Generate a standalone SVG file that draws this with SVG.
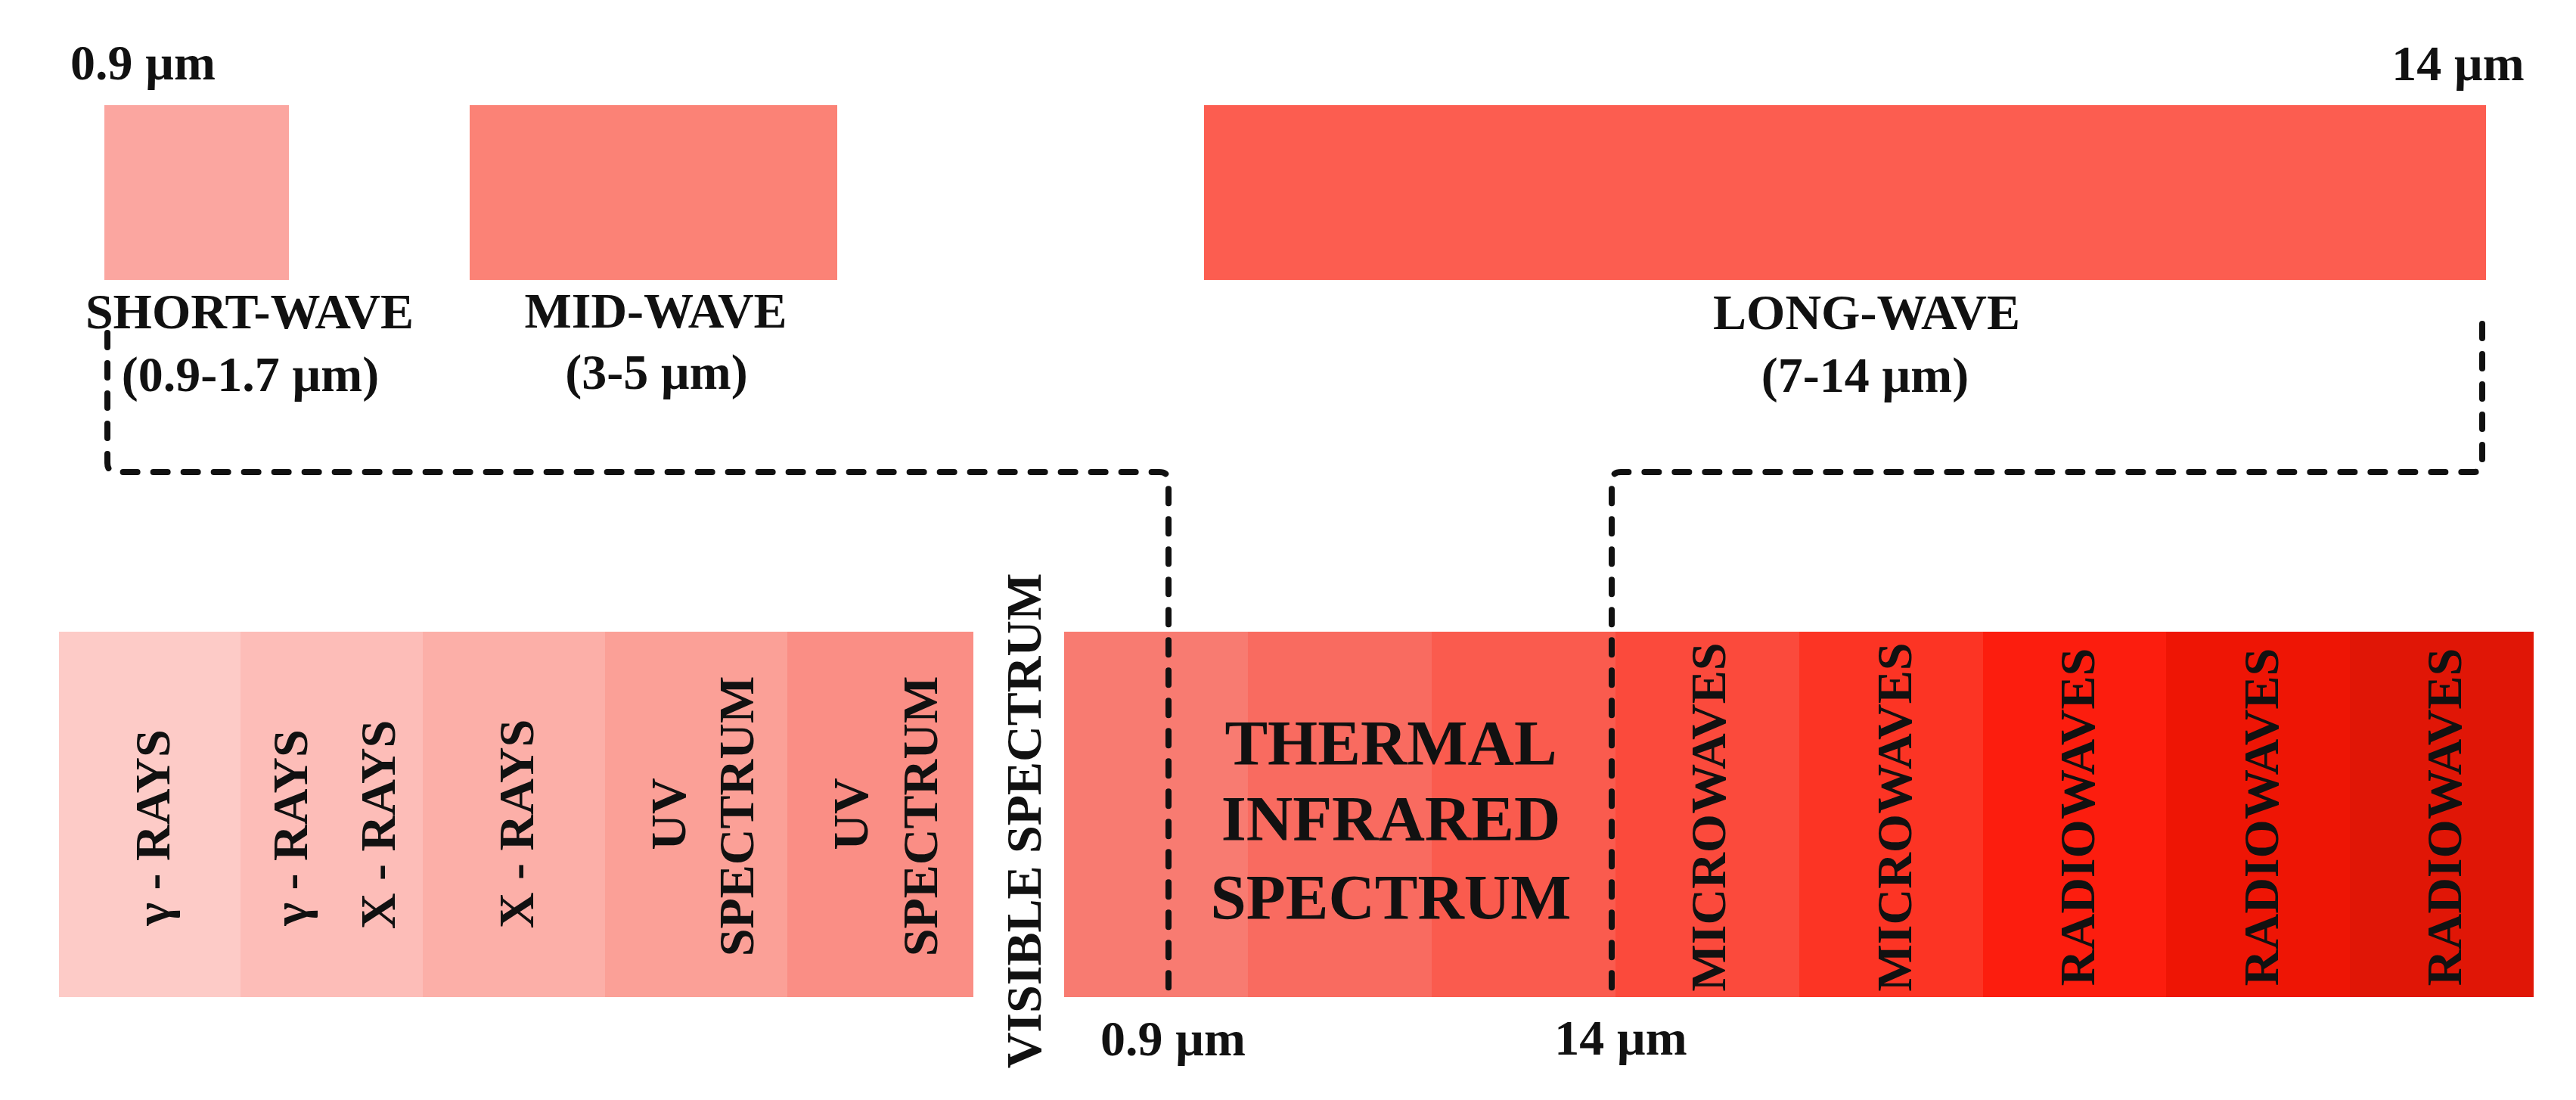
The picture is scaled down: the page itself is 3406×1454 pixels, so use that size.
<svg xmlns="http://www.w3.org/2000/svg" width="3406" height="1454" viewBox="0 0 3406 1454">
<style>
text{font-family:"Liberation Serif","Times New Roman",serif;font-weight:bold;fill:#111;font-size:66px}
.c{text-anchor:middle}
.big{font-size:85px}
.dash{fill:none;stroke:#111;stroke-width:8;stroke-dasharray:19 21;stroke-linecap:round;stroke-linejoin:round}
</style>
<rect width="3406" height="1454" fill="#ffffff"/>
<g id="top-scale">
<text class="c" x="189" y="105">0.9 µm</text>
<text class="c" x="3250" y="106">14 µm</text>
</g>
<g id="short-wave">
<rect x="138" y="139" width="244" height="231" fill="#FBA6A0"/>
<text class="c" x="330" y="434">SHORT-WAVE</text>
<text class="c" x="331" y="517">(0.9-1.7 µm)</text>
</g>
<g id="mid-wave">
<rect x="621" y="139" width="486" height="231" fill="#FB8276"/>
<text class="c" x="867" y="433">MID-WAVE</text>
<text class="c" x="868" y="514">(3-5 µm)</text>
</g>
<g id="long-wave">
<rect x="1592" y="139" width="1695" height="231" fill="#FC5D50"/>
<text class="c" x="2468" y="435">LONG-WAVE</text>
<text class="c" x="2466" y="518">(7-14 µm)</text>
</g>
<g id="gamma-rays">
<rect x="78" y="835" width="241" height="483" fill="#FDCBC7"/>
<text class="c" transform="translate(224,1094) rotate(-90)">γ - RAYS</text>
</g>
<g id="gamma-x-rays">
<rect x="318" y="835" width="242" height="483" fill="#FDBDB8"/>
<text class="c" transform="translate(406,1094) rotate(-90)">γ - RAYS</text>
<text class="c" transform="translate(522,1090) rotate(-90)">X - RAYS</text>
</g>
<g id="x-rays">
<rect x="559" y="835" width="242" height="483" fill="#FCAFA8"/>
<text class="c" transform="translate(705,1089) rotate(-90)">X - RAYS</text>
</g>
<g id="uv-1">
<rect x="800" y="835" width="242" height="483" fill="#FBA097"/>
<text class="c" transform="translate(906,1076) rotate(-90)">UV</text>
<text class="c" transform="translate(996,1079) rotate(-90)">SPECTRUM</text>
</g>
<g id="uv-2">
<rect x="1041" y="835" width="246" height="483" fill="#FA8E85"/>
<text class="c" transform="translate(1147,1076) rotate(-90)">UV</text>
<text class="c" transform="translate(1239,1079) rotate(-90)">SPECTRUM</text>
</g>
<g id="visible-spectrum">
<text class="c" transform="translate(1376,1085) rotate(-90)">VISIBLE SPECTRUM</text>
</g>
<g id="thermal-infrared">
<rect x="1407" y="835" width="244" height="483" fill="#F87B71"/>
<rect x="1650" y="835" width="244" height="483" fill="#F96B60"/>
<rect x="1893" y="835" width="244" height="483" fill="#FA5B4E"/>
<text class="c big" x="1839" y="1011">THERMAL</text>
<text class="c big" x="1839" y="1111">INFRARED</text>
<text class="c big" x="1839" y="1215">SPECTRUM</text>
</g>
<g id="microwaves-1">
<rect x="2136" y="835" width="244" height="483" fill="#FB4A3C"/>
<text class="c" transform="translate(2281,1080) rotate(-90)">MICROWAVES</text>
</g>
<g id="microwaves-2">
<rect x="2379" y="835" width="244" height="483" fill="#FC3424"/>
<text class="c" transform="translate(2527,1080) rotate(-90)">MICROWAVES</text>
</g>
<g id="radiowaves-1">
<rect x="2622" y="835" width="243" height="483" fill="#FC1D0E"/>
<text class="c" transform="translate(2769,1080) rotate(-90)">RADIOWAVES</text>
</g>
<g id="radiowaves-2">
<rect x="2864" y="835" width="244" height="483" fill="#EE1505"/>
<text class="c" transform="translate(3012,1080) rotate(-90)">RADIOWAVES</text>
</g>
<g id="radiowaves-3">
<rect x="3107" y="835" width="243" height="483" fill="#E01606"/>
<text class="c" transform="translate(3254,1080) rotate(-90)">RADIOWAVES</text>
</g>
<g id="bottom-scale">
<text class="c" x="1551" y="1395">0.9 µm</text>
<text class="c" x="2143" y="1394">14 µm</text>
</g>
<g id="connectors">
<path class="dash" d="M142 440 V612 Q142 624 154 624 H1533 Q1545 624 1545 636 V1322"/>
<path class="dash" d="M3282 428 V612 Q3282 624 3270 624 H2143 Q2131 624 2131 636 V1322"/>
</g>
</svg>
